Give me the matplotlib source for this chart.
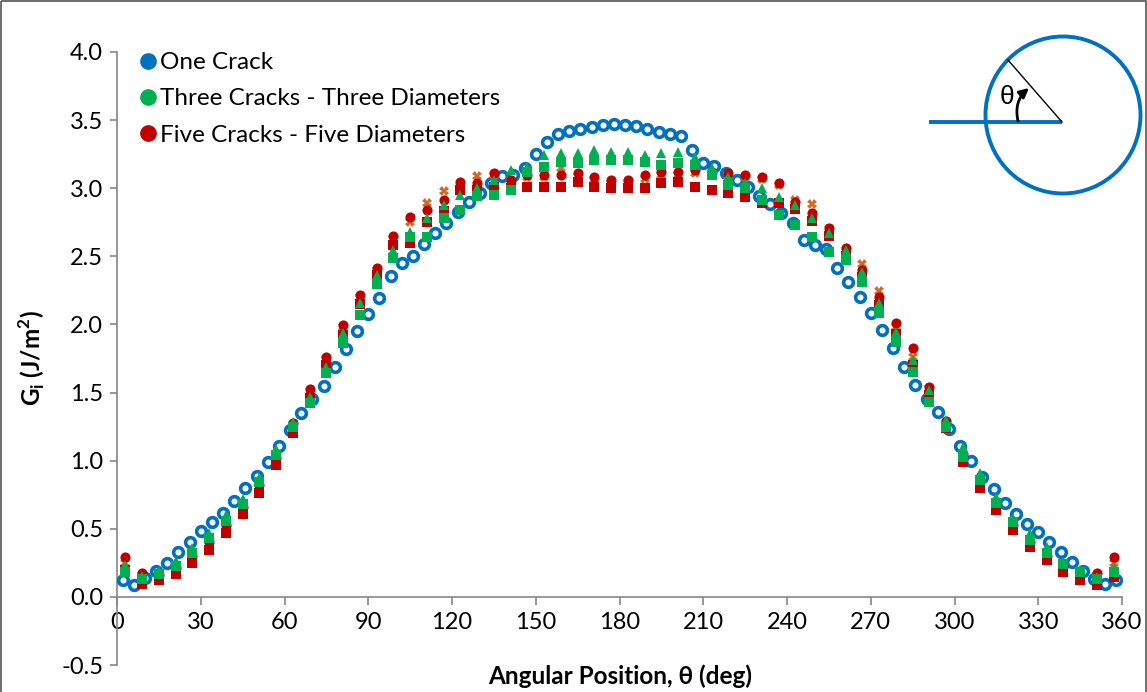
import numpy as np
import matplotlib
matplotlib.use("Agg")
import matplotlib.pyplot as plt
from matplotlib.lines import Line2D
from matplotlib.patches import Ellipse, Rectangle
from matplotlib.ticker import FormatStrFormatter

plt.rcParams['font.family'] = ['Lato', 'DejaVu Sans']
plt.rcParams['axes.unicode_minus'] = False
plt.rcParams['mathtext.fontset'] = 'custom'
plt.rcParams['mathtext.rm'] = 'Lato'
plt.rcParams['mathtext.bf'] = 'Lato:bold'

# One crack: every 4 deg
one_theta = np.arange(2, 360, 4)
one_g = [0.125, 0.088, 0.142, 0.193, 0.252, 0.328, 0.406, 0.482, 0.547, 0.616,
         0.705, 0.80, 0.885, 0.99, 1.105, 1.226, 1.35, 1.451, 1.549, 1.686,
         1.820, 1.955, 2.079, 2.197, 2.354, 2.454, 2.503, 2.589, 2.669, 2.747,
         2.823, 2.901, 2.963, 3.036, 3.090, 3.097, 3.151, 3.251, 3.342, 3.398,
         3.420, 3.435, 3.452, 3.464, 3.469, 3.464, 3.457, 3.437, 3.415, 3.396,
         3.383, 3.281, 3.188, 3.165, 3.114, 3.058, 3.007, 2.946, 2.884, 2.816,
         2.747, 2.620, 2.583, 2.552, 2.412, 2.310, 2.204, 2.087, 1.960, 1.825,
         1.690, 1.555, 1.454, 1.356, 1.231, 1.111, 0.998, 0.883, 0.790, 0.692,
         0.609, 0.536, 0.475, 0.401, 0.328, 0.257, 0.193, 0.134, 0.093, 0.125]

# Multi-crack tips: every 6 deg
multi_theta = np.arange(3, 360, 6)
three_hi = [0.235, 0.15, 0.193, 0.26, 0.357, 0.467, 0.60, 0.715, 0.871, 1.084,
            1.287, 1.47, 1.69, 1.935, 2.156, 2.363, 2.55, 2.68, 2.78, 2.877,
            2.95, 3.0, 3.06, 3.134, 3.158, 3.244, 3.261, 3.256, 3.28, 3.268,
            3.268, 3.244, 3.256, 3.268, 3.231, 3.146, 3.085, 3.036, 3.0, 2.938,
            2.877, 2.78, 2.669, 2.547, 2.388, 2.156, 1.947, 1.739, 1.52, 1.30,
            1.103, 0.908, 0.736, 0.578, 0.467, 0.369, 0.259, 0.198, 0.149, 0.211]
three_lo = [0.18, 0.13, 0.17, 0.23, 0.32, 0.43, 0.56, 0.68, 0.84, 1.04,
            1.25, 1.42, 1.64, 1.862, 2.07, 2.30, 2.49, 2.645, 2.645, 2.78,
            2.84, 2.94, 2.95, 2.987, 3.12, 3.158, 3.195, 3.183, 3.207, 3.207,
            3.207, 3.195, 3.171, 3.183, 3.171, 3.097, 3.024, 3.0, 2.914, 2.804,
            2.73, 2.645, 2.534, 2.473, 2.314, 2.082, 1.874, 1.654, 1.433, 1.25,
            1.03, 0.859, 0.688, 0.55, 0.418, 0.321, 0.24, 0.18, 0.13, 0.18]
five_hi = [0.296, 0.175, 0.16, 0.21, 0.30, 0.40, 0.53, 0.66, 0.82, 1.02,
           1.28, 1.524, 1.764, 1.996, 2.217, 2.412, 2.65, 2.79, 2.84, 2.91,
           3.048, 3.036, 3.114, 3.06, 3.097, 3.097, 3.097, 3.11, 3.085, 3.06,
           3.06, 3.097, 3.12, 3.12, 3.134, 3.12, 3.11, 3.097, 3.085, 3.036,
           2.901, 2.816, 2.706, 2.559, 2.40, 2.204, 2.009, 1.825, 1.544, 1.29,
           1.05, 0.85, 0.68, 0.53, 0.40, 0.30, 0.22, 0.16, 0.174, 0.291]
five_lo = [0.20, 0.095, 0.125, 0.17, 0.247, 0.345, 0.467, 0.61, 0.761, 0.969,
           1.20, 1.46, 1.70, 1.92, 2.15, 2.36, 2.58, 2.596, 2.755, 2.83,
           2.987, 2.987, 3.011, 3.0, 3.011, 3.011, 3.011, 3.048, 3.011, 3.0,
           3.0, 3.0, 3.036, 3.048, 3.011, 2.987, 2.963, 2.938, 2.89, 2.89,
           2.85, 2.76, 2.65, 2.50, 2.35, 2.14, 1.93, 1.70, 1.48, 1.24,
           0.993, 0.798, 0.639, 0.492, 0.369, 0.272, 0.186, 0.125, 0.088, 0.149]
five_x = [0.25, 0.16, 0.15, 0.20, 0.29, 0.39, 0.52, 0.65, 0.81, 1.01,
          1.27, 1.51, 1.75, 1.98, 2.20, 2.40, 2.63, 2.75, 2.89, 2.98,
          3.0, 3.09, 3.10, 3.05, 3.08, 3.08, 3.146, 3.09, 3.06, 3.04,
          3.04, 3.07, 3.10, 3.10, 3.11, 3.10, 3.09, 3.08, 3.07, 3.02,
          2.91, 2.882, 2.70, 2.55, 2.444, 2.246, 1.98, 1.764, 1.53, 1.28,
          1.04, 0.84, 0.67, 0.52, 0.39, 0.29, 0.21, 0.15, 0.16, 0.25]

labels = ['One Crack', 'Three Cracks - Three Diameters', 'Five Cracks - Five Diameters']
blue = '#0070C0'
green = '#00B050'
red = '#C00000'
orange = '#D2691E'
grey = '#868686'

fig = plt.figure(figsize=(11.47, 6.92), dpi=100)
ax = fig.add_axes([117 / 1147, 1 - 665 / 692, (1122 - 117) / 1147, (665 - 52) / 692])

ax.plot(one_theta, one_g, 'o', ms=7, mfc='white', mec=blue, mew=2.6, zorder=3)
ax.plot(multi_theta, five_x, 'X', ms=7, color=orange, mew=0, zorder=4)
ax.plot(multi_theta, five_lo, 's', ms=6.8, color=red, mew=0, zorder=5)
ax.plot(multi_theta, five_hi, 'o', ms=7.3, color=red, mew=0, zorder=5)
ax.plot(multi_theta, three_lo, 's', ms=6.8, color=green, mew=0, zorder=6)
ax.plot(multi_theta, three_hi, '^', ms=7.3, color=green, mew=0, zorder=6)

ax.set_xlim(0, 360)
ax.set_ylim(-0.5, 4.0)
ax.set_xticks(np.arange(0, 361, 30))
ax.set_yticks(np.arange(-0.5, 4.01, 0.5))
ax.yaxis.set_major_formatter(FormatStrFormatter('%.1f'))
for s in ['top', 'right']:
    ax.spines[s].set_visible(False)
ax.spines['bottom'].set_position(('data', 0))
for s in ['left', 'bottom']:
    ax.spines[s].set_color(grey)
    ax.spines[s].set_linewidth(1.2)
ax.tick_params(axis='x', direction='out', length=6, width=1.2, color=grey, pad=5, labelsize=17)
ax.tick_params(axis='y', direction='out', length=5, width=1.2, color=grey, pad=5, labelsize=17)
ax.patch.set_alpha(0)

handles = [Line2D([], [], ls='', marker='o', ms=11, color=c) for c in (blue, green, red)]
fig.legend(handles, labels, loc='upper left', bbox_to_anchor=(139 / 1147, 1 - 52 / 692),
           frameon=False, fontsize=17.5, handlelength=0.7, handletextpad=0.15,
           labelspacing=0.63, borderaxespad=0, borderpad=0)

fig.text(620 / 1147, 1 - 676 / 692, 'Angular Position, θ (deg)', ha='center', va='center',
         fontsize=17.5, fontweight='bold')
fig.text(32 / 1147, 1 - 358 / 692, r'G$_{\mathbf{i}}$ (J/m$^{\mathbf{2}}$)', ha='center',
         va='center', rotation=90, fontsize=17.5, fontweight='bold')

# inset sketch of the angle definition
ov = fig.add_axes([0, 0, 1, 1], zorder=10)
ov.set_xlim(0, 1147)
ov.set_ylim(692, 0)
ov.axis('off')
ov.add_patch(Ellipse((1063, 115), 155, 157, fill=False, ec=blue, lw=2.8))
ov.plot([929, 1062], [122, 122], color=blue, lw=2.8, solid_capstyle='butt')
ov.plot([1062, 1008], [122, 60], color='black', lw=1)
ov.text(1007, 97, 'θ', fontsize=19, ha='center', va='center', family=['Liberation Sans'])
ov.annotate('', xy=(1029, 88), xytext=(1018, 121),
            arrowprops=dict(arrowstyle='-|>', color='black', lw=2,
                            connectionstyle='arc3,rad=-0.3', mutation_scale=14,
                            shrinkA=0, shrinkB=0))
ov.add_patch(Rectangle((1, 1), 1145, 695, fill=False, ec='#555555', lw=1.2))

fig.savefig('out.png', dpi=100)
